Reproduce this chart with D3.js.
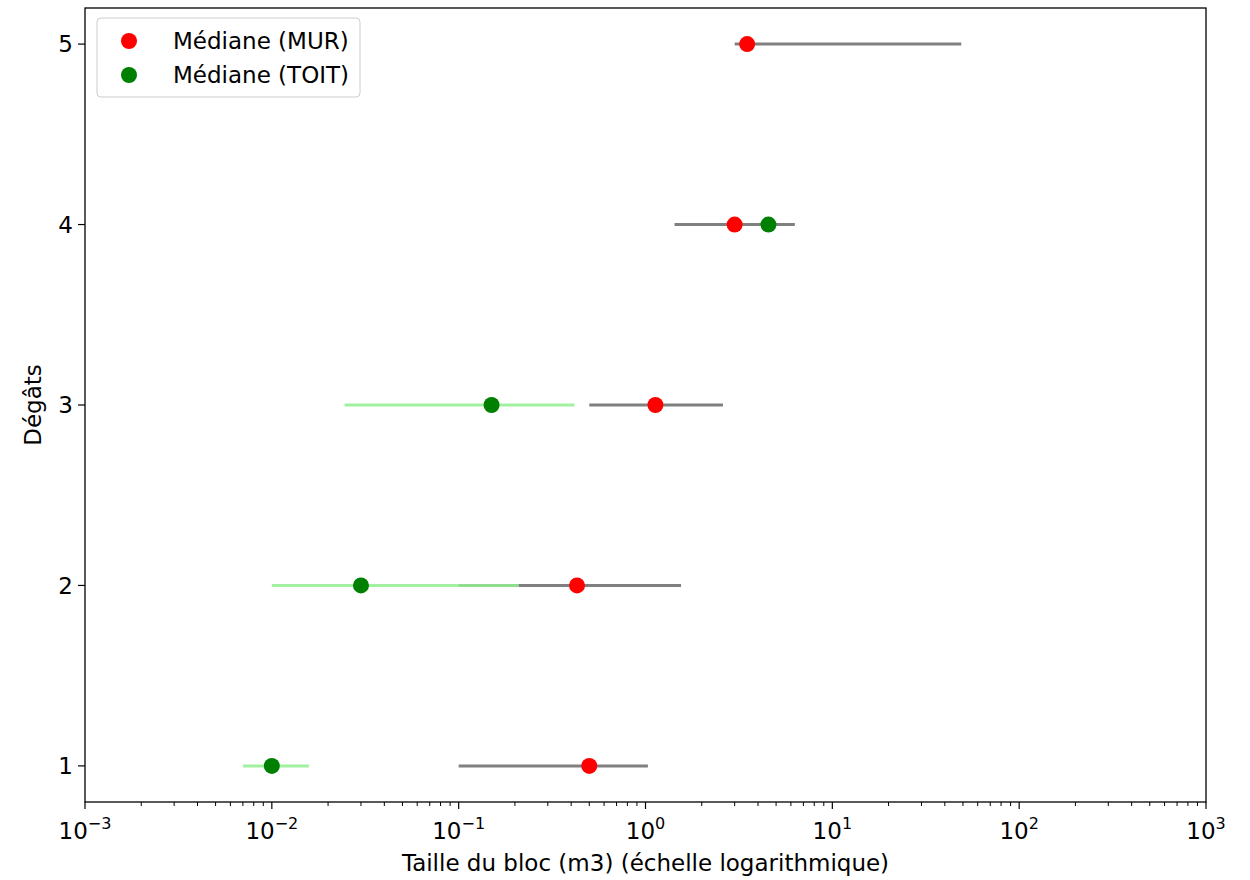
<!DOCTYPE html>
<html>
<head>
<meta charset="utf-8">
<script src="https://cdn.jsdelivr.net/npm/d3@7"></script>
<style>
  body { margin: 0; background: #fff; }
  svg { font-family: "DejaVu Sans", sans-serif; }
</style>
</head>
<body>
<div id="chart"></div>
<script>
// degats levels
const levels = [1, 2, 3, 4, 5];

// MUR (wall): median and range
const murMedian = [0.5, 0.43, 1.13, 3.0, 3.5];
const murMin = [0.1, 0.1, 0.5, 1.43, 3.0];
const murMax = [1.03, 1.55, 2.6, 6.3, 49];

// TOIT (roof): median and range (none for 4)
const toitLevels = [1, 2, 3, 4];
const toitMedian = [0.01, 0.03, 0.15, 4.55];
const toitMin = [0.007, 0.01, 0.0245, null];
const toitMax = [0.0158, 0.21, 0.417, null];

const xTickExp = [-3, -2, -1, 0, 1, 2, 3];

const W = 1250, H = 880;
const m = {left: 85, right: 44, top: 8, bottom: 78};
const FS = 23;

const svg = d3.select('#chart').append('svg')
  .attr('width', W)
  .attr('height', H);

const x = d3.scaleLog().domain([1e-3, 1e3]).range([m.left, W - m.right]);
const y = d3.scaleLinear().domain([0.8, 5.2]).range([H - m.bottom, m.top]);

// x axis with log minor ticks
const xAxis = svg.append('g')
  .attr('transform', `translate(0,${H - m.bottom})`);
const minor = [];
for (let e = -3; e < 3; e++) {
  for (let k = 2; k < 10; k++) minor.push(k * Math.pow(10, e));
}
xAxis.selectAll('.minor').data(minor).join('line')
  .attr('x1', d => x(d)).attr('x2', d => x(d))
  .attr('y1', 0).attr('y2', 4)
  .attr('stroke', '#000').attr('stroke-width', 1);
xAxis.selectAll('.major').data(xTickExp).join('line')
  .attr('x1', d => x(Math.pow(10, d))).attr('x2', d => x(Math.pow(10, d)))
  .attr('y1', 0).attr('y2', 7)
  .attr('stroke', '#000').attr('stroke-width', 1.2);
const xl = xAxis.selectAll('.lab').data(xTickExp).join('text')
  .attr('x', d => x(Math.pow(10, d)))
  .attr('y', 37)
  .attr('text-anchor', 'middle')
  .attr('font-size', FS)
  .attr('fill', '#000');
xl.append('tspan').text('10');
xl.append('tspan')
  .attr('dy', -10)
  .attr('font-size', 16)
  .text(d => d < 0 ? '\u2212' + (-d) : d);

// y axis
const yAxis = svg.append('g')
  .attr('transform', `translate(${m.left},0)`);
yAxis.selectAll('line').data(levels).join('line')
  .attr('x1', -7).attr('x2', 0)
  .attr('y1', d => y(d)).attr('y2', d => y(d))
  .attr('stroke', '#000').attr('stroke-width', 1.2);
yAxis.selectAll('text').data(levels).join('text')
  .attr('x', -12)
  .attr('y', d => y(d))
  .attr('dy', '0.36em')
  .attr('text-anchor', 'end')
  .attr('font-size', FS)
  .text(d => d);

// frame
svg.append('rect')
  .attr('x', m.left).attr('y', m.top)
  .attr('width', W - m.left - m.right)
  .attr('height', H - m.top - m.bottom)
  .attr('fill', 'none')
  .attr('stroke', '#000')
  .attr('stroke-width', 1.3);

// axis labels
svg.append('text')
  .attr('x', (m.left + W - m.right) / 2)
  .attr('y', 871)
  .attr('text-anchor', 'middle')
  .attr('font-size', FS)
  .text('Taille du bloc (m3) (échelle logarithmique)');
svg.append('text')
  .attr('transform', `translate(41,${(m.top + H - m.bottom) / 2}) rotate(-90)`)
  .attr('text-anchor', 'middle')
  .attr('font-size', FS)
  .text('Dégâts');

const plot = svg.append('g');

// range lines
plot.selectAll('.murRange').data(levels).join('line')
  .attr('x1', (d, i) => x(murMin[i]))
  .attr('x2', (d, i) => x(murMax[i]))
  .attr('y1', d => y(d)).attr('y2', d => y(d))
  .attr('stroke', 'gray')
  .attr('stroke-width', 3);

const toitR = toitLevels.map((d, i) => ({lvl: d, lo: toitMin[i], hi: toitMax[i]}))
  .filter(d => d.lo != null);
plot.selectAll('.toitRange').data(toitR).join('line')
  .attr('x1', d => x(d.lo))
  .attr('x2', d => x(d.hi))
  .attr('y1', d => y(d.lvl)).attr('y2', d => y(d.lvl))
  .attr('stroke', 'lightgreen')
  .attr('stroke-opacity', 0.85)
  .attr('stroke-width', 3);

// medians
plot.selectAll('.murPt').data(levels).join('circle')
  .attr('cx', (d, i) => x(murMedian[i]))
  .attr('cy', d => y(d))
  .attr('r', 8)
  .attr('fill', 'red');
plot.selectAll('.toitPt').data(toitLevels).join('circle')
  .attr('cx', (d, i) => x(toitMedian[i]))
  .attr('cy', d => y(d))
  .attr('r', 8)
  .attr('fill', 'green');

// legend
const leg = svg.append('g');
leg.append('rect')
  .attr('x', 97).attr('y', 18)
  .attr('width', 263).attr('height', 79)
  .attr('rx', 4)
  .attr('fill', '#fff')
  .attr('fill-opacity', 0.8)
  .attr('stroke', '#ccc');
const legItems = [['Médiane (MUR)', 'red'], ['Médiane (TOIT)', 'green']];
legItems.forEach((it, i) => {
  const yy = 41 + i * 34;
  leg.append('circle').attr('cx', 129).attr('cy', yy).attr('r', 8).attr('fill', it[1]);
  leg.append('text')
    .attr('x', 173).attr('y', yy)
    .attr('dy', '0.36em')
    .attr('font-size', FS)
    .text(it[0]);
});
</script>
</body>
</html>
